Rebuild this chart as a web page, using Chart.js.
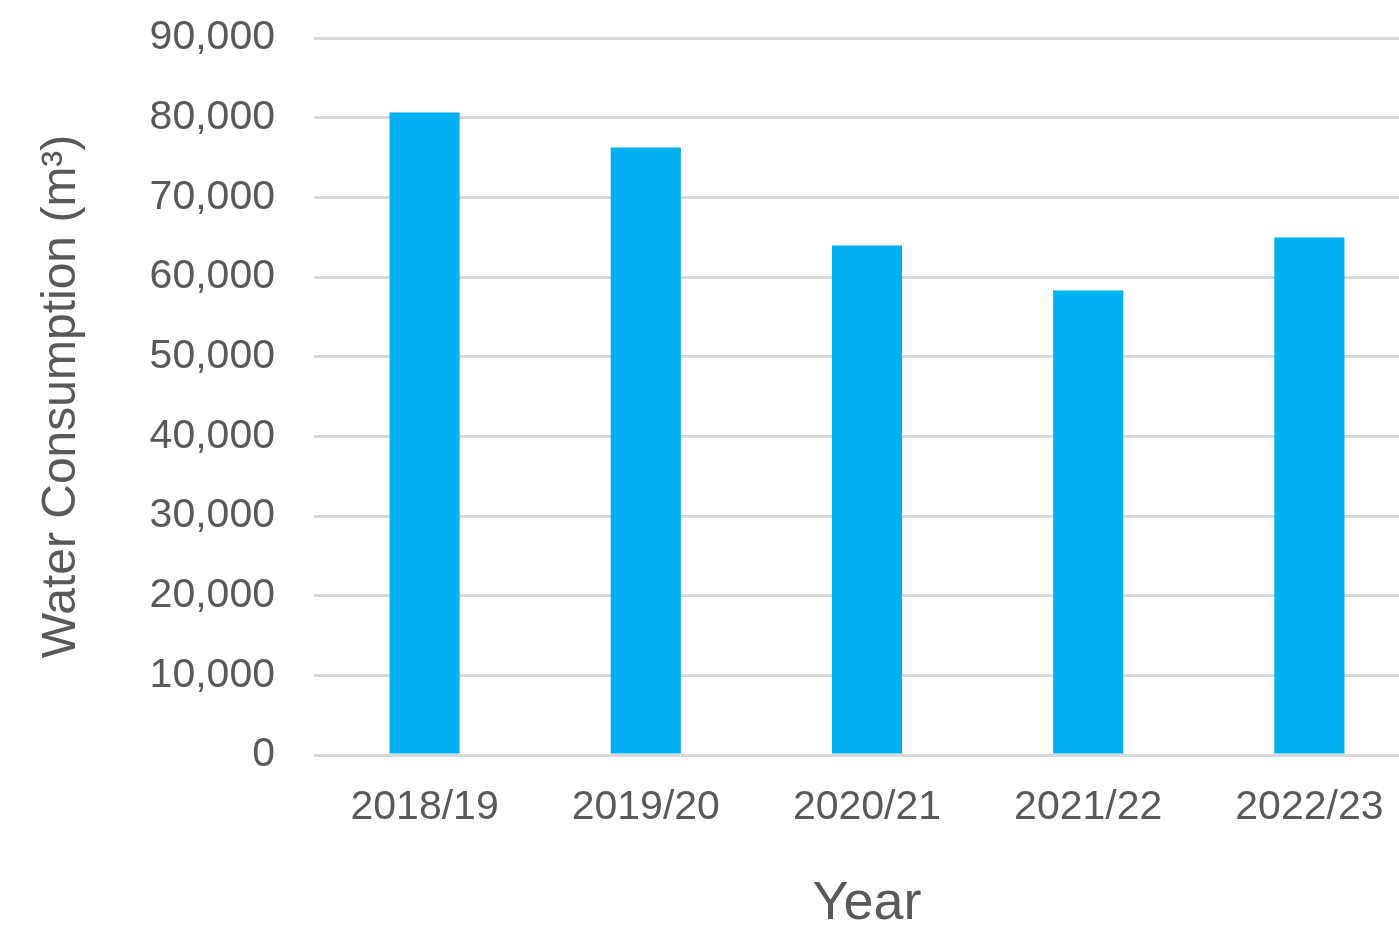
<!DOCTYPE html>
<html>
<head>
<meta charset="utf-8">
<script src="https://cdn.jsdelivr.net/npm/chart.js@4"></script>
<style>
  html, body { margin: 0; padding: 0; background: #ffffff; overflow: hidden; }
  #wrap { width: 1420px; height: 932px; position: relative; }
</style>
</head>
<body>
<div id="wrap"><canvas id="c"></canvas></div>
<script>
const categories = ["2018/19", "2019/20", "2020/21", "2021/22", "2022/23"];
const waterConsumption = [80650, 76260, 63940, 58290, 64950];
const yTickValues = [0, 10000, 20000, 30000, 40000, 50000, 60000, 70000, 80000, 90000];
const yAxisTitle = "Water Consumption (m³)";
const xAxisTitle = "Year";

const textColor = "#595959";
const fontFamily = "'Liberation Sans', Arial, sans-serif";

new Chart(document.getElementById("c"), {
  type: "bar",
  data: {
    labels: categories,
    datasets: [{
      data: waterConsumption,
      backgroundColor: "#00b0f0",
      borderWidth: 0,
      barPercentage: 0.317,
      categoryPercentage: 1.0
    }]
  },
  options: {
    responsive: true,
    maintainAspectRatio: false,
    animation: false,
    layout: { padding: { top: 38, left: 0, right: 0, bottom: 0 } },
    plugins: { legend: { display: false }, tooltip: { enabled: false } },
    scales: {
      x: {
        grid: { display: false },
        border: { display: false },
        ticks: {
          color: textColor,
          font: { family: fontFamily, size: 41 },
          padding: 20,
          maxRotation: 0
        },
        title: {
          display: true,
          text: xAxisTitle,
          color: textColor,
          font: { family: fontFamily, size: 54, lineHeight: 1.0 },
          padding: { top: 0, bottom: 1 }
        },
        afterFit: (s) => { s.height = 177; s.paddingLeft = 0; s.paddingRight = 0; }
      },
      y: {
        min: 0,
        max: 90000,
        afterBuildTicks: (s) => { s.ticks = yTickValues.map(v => ({ value: v })); },
        grid: { color: "#d9d9d9", lineWidth: 3, drawTicks: false },
        border: { display: false },
        ticks: {
          color: textColor,
          font: { family: fontFamily, size: 41 },
          padding: 39,
          callback: (v) => Number(v).toLocaleString("en-US")
        },
        title: {
          display: true,
          text: yAxisTitle,
          color: textColor,
          font: { family: fontFamily, size: 48, lineHeight: 1.0 },
          padding: { top: 38, bottom: 0 }
        },
        afterFit: (s) => { s.width = 314; s.paddingTop = 0; s.paddingBottom = 0; }
      }
    }
  }
});
</script>
</body>
</html>
